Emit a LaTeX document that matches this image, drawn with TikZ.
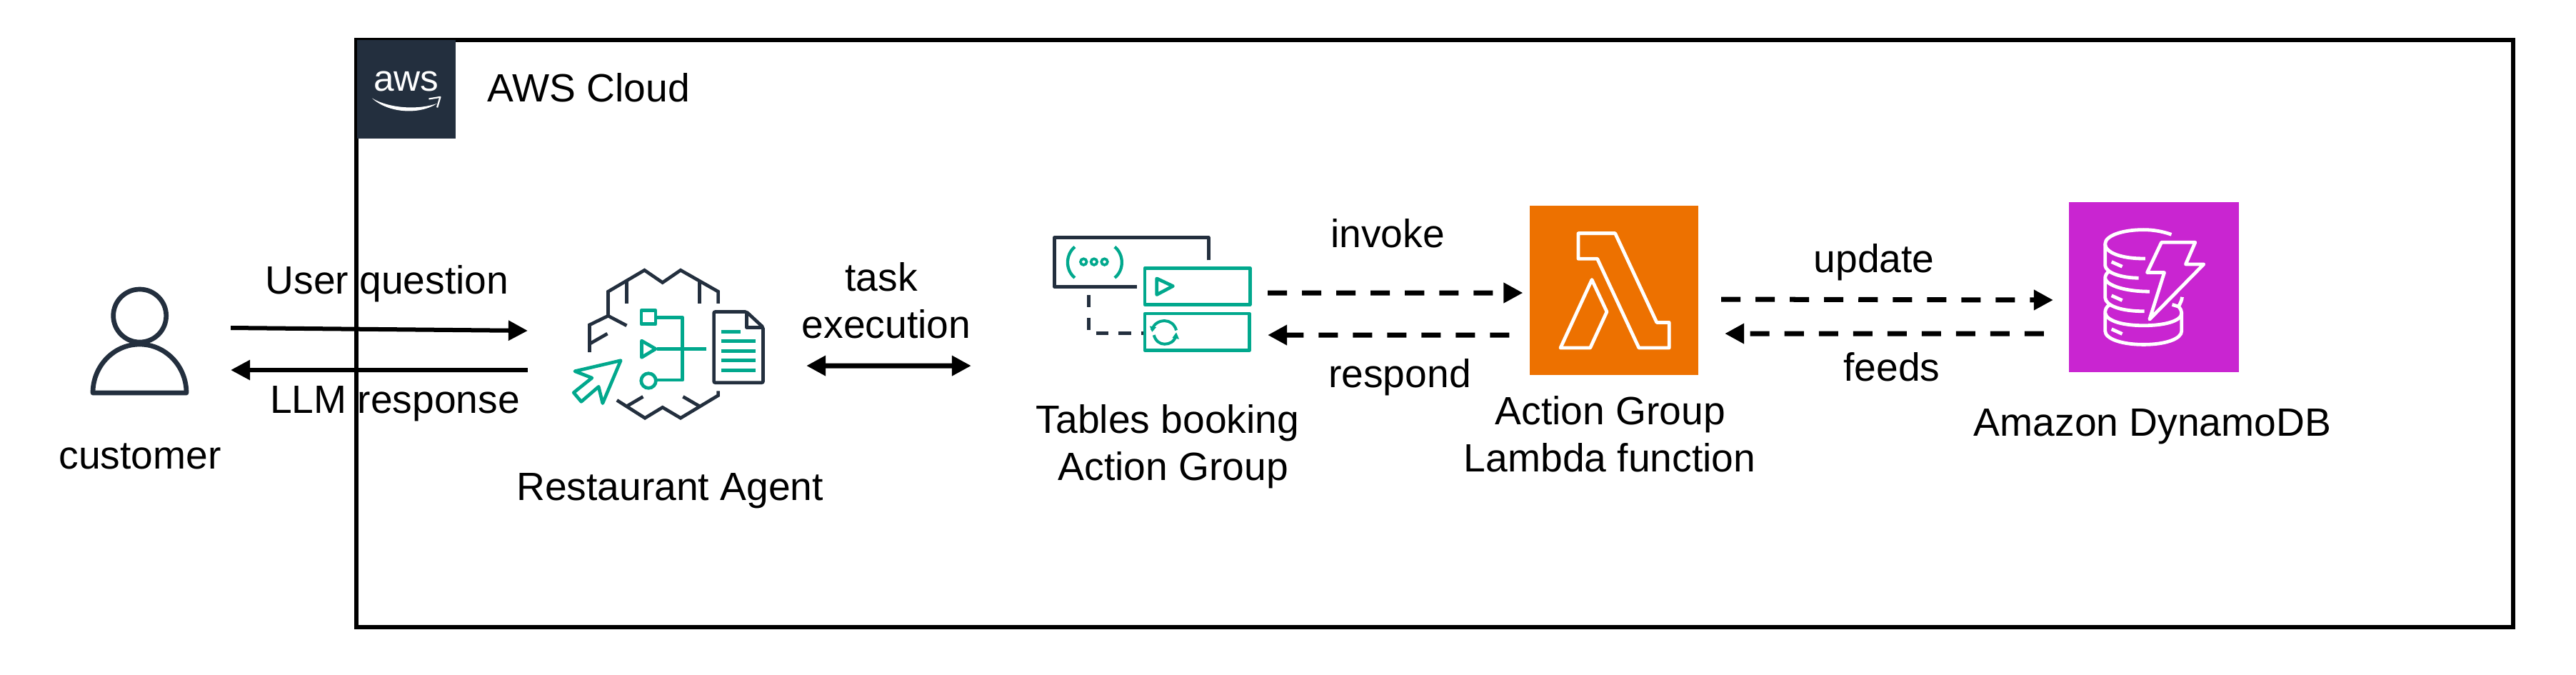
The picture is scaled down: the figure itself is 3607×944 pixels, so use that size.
\documentclass[tikz,border=0pt]{standalone}
\usepackage{fontspec}
\setmainfont{Liberation Sans}
\usetikzlibrary{arrows.meta}

\definecolor{awsdark}{HTML}{232F3E}
\definecolor{awsteal}{HTML}{01A88D}
\definecolor{awsorange}{HTML}{ED7100}
\definecolor{awspurple}{HTML}{C925D1}

\tikzset{
  icon node/.style={inner sep=0pt,outer sep=0pt},
  caption node/.style={inner sep=0pt,anchor=base,align=center,font=\fontsize{15.7}{18.8}\selectfont},
  solid flow/.style={line width=.06cm,-{Triangle[length=.27cm,width=.27cm]}},
  dashed flow/.style={line width=.07cm,dash pattern=on .27cm off .21cm,-{Triangle[length=.27cm,width=.27cm]}},
  dark line/.style={draw=awsdark,line width=.047cm},
  teal line/.style={draw=awsteal,line width=.047cm},
  white line/.style={draw=white,line width=.048cm},
  zoomed/.style={x=.003333cm,y=-.003333cm}
}

\begin{document}
\begin{tikzpicture}[x=.01cm,y=-.01cm]
  \useasboundingbox (0,0) rectangle (3607,944);

  % cloud frame and logo
  \node[icon node,draw=black,line width=.06cm,minimum width=30.18cm,minimum height=8.22cm] (cloud) at (2009,467) {};
  \node[icon node,fill=awsdark,minimum size=1.38cm] (awslogo) at (569,125) {};
  \node[caption node,text=white,font=\fontsize{14.6}{16}\selectfont] (awstext) at (569,127) {aws};
  \node[caption node,anchor=base west] (cloudtitle) at (682,142) {AWS Cloud};

  % the main blocks
  \node[icon node,minimum width=1.31cm,minimum height=1.46cm,outer sep=.62cm] (customer) at (195.5,477) {};
  \node[icon node,minimum width=2.70cm,minimum height=2.10cm,outer sep=.63cm] (agent) at (937,482) {};
  \node[icon node,minimum width=2.79cm,minimum height=1.66cm] (tables) at (1613.5,410) {};
  \node[icon node,fill=awsorange,minimum width=2.36cm,minimum height=2.37cm] (lambda) at (2260,406.5) {};
  \node[icon node,fill=awspurple,minimum size=2.38cm] (dynamo) at (3016,402) {};

  % captions
  \node[caption node] (customertext) at (196,656) {customer};
  \node[caption node] (agenttext) at (938,700) {Restaurant Agent};
  \node[caption node] (tablestext1) at (1635,606) {Tables booking};
  \node[caption node] (tablestext2) at (1643,672) {Action Group};
  \node[caption node] (lambdatext1) at (2255,594) {Action Group};
  \node[caption node] (lambdatext2) at (2254,660) {Lambda function};
  \node[caption node] (dynamotext) at (3014,610) {Amazon DynamoDB};
  \node[caption node] (questiontext) at (542,411) {User question};
  \node[caption node] (responsetext) at (553,578) {LLM response};
  \node[caption node] (tasktext1) at (1234,407) {task};
  \node[caption node] (tasktext2) at (1241,473) {execution};
  \node[caption node] (invoketext) at (1943,346) {invoke};
  \node[caption node] (respondtext) at (1960,542) {respond};
  \node[caption node] (updatetext) at (2624,381) {update};
  \node[caption node] (feedstext) at (2649,533) {feeds};

  % connectors
  \draw[solid flow] ([yshift=.18cm]customer.east) -- ([yshift=.19cm]agent.west);
  \draw[solid flow] ([yshift=-.36cm]agent.west) -- ([yshift=-.41cm]customer.east);
  \draw[line width=.07cm,{Triangle[length=.27cm,width=.27cm]}-{Triangle[length=.27cm,width=.27cm]}]
    ([xshift=-.06cm,yshift=-.30cm]agent.east) -- ([xshift=-1.14cm,yshift=-1.02cm]tables.west);
  \draw[dashed flow] ([xshift=.22cm]tables.east) -- ([xshift=-.095cm,yshift=-.035cm]lambda.west);
  \draw[dashed flow] ([xshift=-.285cm,yshift=-.625cm]lambda.west) -- ([xshift=.22cm,yshift=-.59cm]tables.east);
  \draw[dashed flow] ([xshift=.32cm,yshift=-.125cm]lambda.east) -- ([xshift=-.22cm,yshift=-.18cm]dynamo.west);
  \draw[dashed flow] ([xshift=-.35cm,yshift=-.65cm]dynamo.west) -- ([xshift=.37cm,yshift=-.605cm]lambda.east);

  % aws smile
  \begin{scope}[shift={(480,30)},zoomed]
    \fill[white] (123,323) .. controls (190,385) and (320,395) .. (397,345) .. controls (320,372) and (200,368) .. (123,323) -- cycle;
    \draw[white,line width=.022cm,line join=round] (362,326) -- (410,318) -- (397,362);
  \end{scope}

  % customer
  \draw[dark line,line width=.067cm,line join=round] (195.7,442) circle [radius=.37cm];
  \draw[dark line,line width=.067cm,line join=round] (130,550) .. controls (130,512.4) and (159.3,482) .. (195.5,482)
    .. controls (231.7,482) and (261,512.4) .. (261,550) -- cycle;

  % agent
  \begin{scope}[shift={(750,330)},zoomed]
    \draw[dark line] (768,285) -- (768,235) -- (610,145) -- (534,197) -- (458,145) -- (305,235) -- (305,337);
    \draw[dark line] (384,285) -- (384,190);
    \draw[dark line] (689,285) -- (689,190);
    \draw[dark line] (383,378) -- (305,337) -- (227,375) -- (227,490);
    \draw[dark line] (227,455) -- (302,412);
    \draw[dark line] (342,692) -- (460,767) -- (534,722) -- (610,767) -- (768,672) -- (768,653);
    \draw[dark line] (384,717) -- (452,677);
    \draw[dark line] (689,717) -- (620,677);
    \draw[dark line,rounded corners=.02cm] (887,320) -- (750,320) -- (750,618) -- (957,618) -- (957,385) -- cycle;
    \draw[dark line,line join=round] (887,320) -- (887,385) -- (957,385);
    \foreach \y/\xend in {404/862,443/926,485/926,524/926,566/926}
      \draw[teal line] (780,\y) -- (\xend,\y);
    \draw[teal line,line join=round] (445,314) rectangle (505,372);
    \draw[teal line,line join=round] (446,442) -- (505,476) -- (446,512) -- cycle;
    \draw[teal line] (475,610) circle [radius=.103cm];
    \draw[teal line,line join=round] (512,343) -- (618,343) -- (618,607) -- (512,607);
    \draw[teal line] (512,476) -- (718,476);
    \draw[teal line,line join=round] (165,570) -- (358,525) -- (282,705) -- (265,635) -- (192,698) -- (160,660) -- (237,598) -- cycle;
  \end{scope}

  % tables action group
  \begin{scope}[shift={(1460,310)},zoomed]
    \draw[dark line,line join=round] (698,163) -- (698,68) -- (50,68) -- (50,275) -- (398,275);
    \draw[dark line,dash pattern=on .173cm off .143cm] (194,310) -- (194,470) -- (425,470);
    \draw[teal line,line join=round] (430,196) rectangle (872,350);
    \draw[teal line,line join=round] (430,388) rectangle (870,542);
    \draw[teal line,line join=round] (480,240) -- (548,272) -- (480,308) -- cycle;
    \draw[teal line,line width=.04cm] (460,458) .. controls (466,430) and (490,418) .. (513,418) .. controls (535,418) and (555,432) .. (562,458);
    \draw[teal line,line width=.04cm] (468,478) .. controls (475,505) and (495,516) .. (513,516) .. controls (535,516) and (555,505) .. (562,478);
    \fill[awsteal] (450,440) -- (478,445) -- (460,465) -- cycle;
    \fill[awsteal] (574,495) -- (545,490) -- (562,467) -- cycle;
    \draw[teal line,line width=.043cm] (135,107) .. controls (95,140) and (95,205) .. (135,237);
    \draw[teal line,line width=.043cm] (303,107) .. controls (343,140) and (343,205) .. (303,237);
    \foreach \x in {172,216,260}
      \draw[teal line,line width=.037cm] (\x,170) circle [radius=.043cm];
  \end{scope}

  % lambda symbol
  \begin{scope}[shift={(2200,300)},zoomed]
    \draw[white line,line join=round] (30,80) -- (185,80) -- (360,455) -- (412,455) -- (412,562) -- (285,562) -- (110,187) -- (30,187) -- cycle;
    \draw[white line,line join=round] (87,275) -- (150,410) -- (80,562) -- (-45,562) -- cycle;
  \end{scope}

  % dynamodb symbol
  \begin{scope}[shift={(2920,300)},zoomed]
    \draw[white line] (362,85) .. controls (325,72) and (285,65) .. (245,65) .. controls (155,65) and (83,90) .. (83,125) -- (83,215) .. controls (85,245) and (150,268) .. (224,268);
    \draw[white line] (83,125) .. controls (83,160) and (150,188) .. (252,186);
    \draw[white line] (100,240) .. controls (88,248) and (83,258) .. (83,270) -- (83,350) .. controls (85,385) and (150,408) .. (248,408);
    \draw[white line] (83,270) .. controls (90,300) and (170,325) .. (270,325);
    \draw[white line] (100,382) .. controls (88,390) and (83,400) .. (83,415) -- (83,490) .. controls (83,525) and (155,548) .. (245,548) .. controls (335,548) and (405,525) .. (405,490) -- (405,415) .. controls (405,405) and (400,398) .. (392,388);
    \draw[white line] (83,415) .. controls (90,450) and (160,468) .. (245,468) .. controls (330,468) and (405,450) .. (405,415);
    \draw[white line] (407,348) .. controls (406,362) and (400,372) .. (392,388) -- (365,380);
    \foreach \y in {200,342,483}
      \draw[white line] (110,\y) -- (155,\y+20);
    \draw[white line,line join=round] (320,118) -- (462,118) -- (422,210) -- (498,210) -- (270,442) -- (332,245) -- (260,245) -- cycle;
  \end{scope}
\end{tikzpicture}
\end{document}
